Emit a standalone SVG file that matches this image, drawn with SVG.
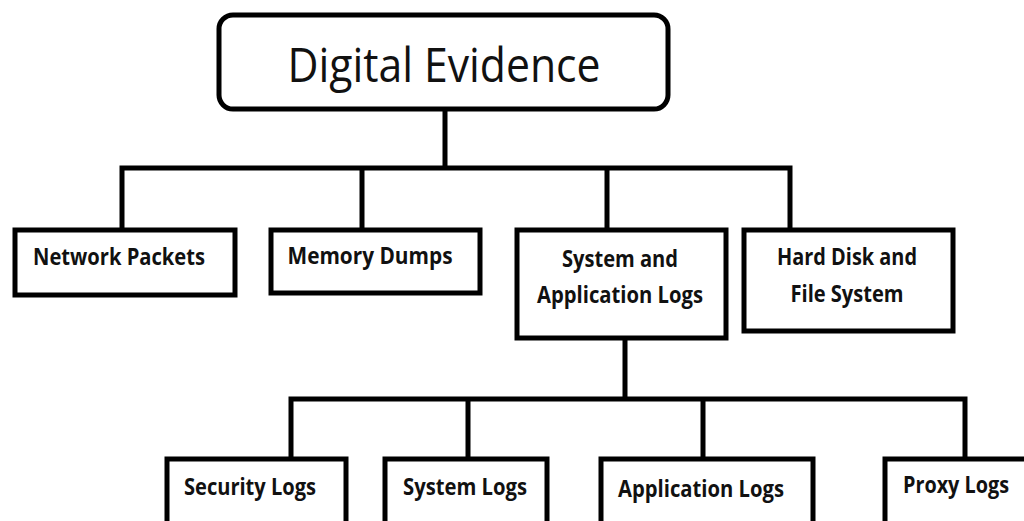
<svg xmlns="http://www.w3.org/2000/svg" width="1024" height="521" viewBox="0 0 1024 521">
<style>
.box{fill:#fff;stroke:#000;stroke-width:5}
.ln{fill:none;stroke:#000;stroke-width:5;stroke-linecap:square}
.t{font-family:"Open Sans","Noto Sans",sans-serif;font-weight:bold;font-size:24px;fill:#111;text-anchor:middle}
.title{font-family:"Open Sans","Noto Sans",sans-serif;font-size:48px;fill:#111;text-anchor:middle}
</style>
<rect width="1024" height="521" fill="#fff"/>
<g id="connectors">
<path class="ln" d="M445,109 V168 M122,168 H790 M122,168 V230 M362,168 V230 M607,168 V230 M790,168 V230"/>
<path class="ln" d="M625,338 V399 M291,399 H965 M291,399 V459 M468,399 V459 M703,399 V459 M965,399 V459"/>
</g>
<g id="digital-evidence">
<rect class="box" x="219" y="15" width="449" height="94" rx="14"/>
<text class="title" x="444" y="82" textLength="313" lengthAdjust="spacingAndGlyphs">Digital Evidence</text>
</g>
<g id="network-packets">
<rect class="box" x="15" y="230" width="220" height="65"/>
<text class="t" x="119" y="265" textLength="172" lengthAdjust="spacingAndGlyphs">Network Packets</text>
</g>
<g id="memory-dumps">
<rect class="box" x="271" y="230" width="209" height="63"/>
<text class="t" x="370" y="264" textLength="165" lengthAdjust="spacingAndGlyphs">Memory Dumps</text>
</g>
<g id="system-application-logs">
<rect class="box" x="517" y="230" width="209" height="108"/>
<text class="t" x="620" y="267" textLength="116" lengthAdjust="spacingAndGlyphs">System and</text>
<text class="t" x="620" y="303" textLength="166" lengthAdjust="spacingAndGlyphs">Application Logs</text>
</g>
<g id="hard-disk">
<rect class="box" x="744" y="230" width="209" height="101"/>
<text class="t" x="847" y="265" textLength="140" lengthAdjust="spacingAndGlyphs">Hard Disk and</text>
<text class="t" x="847" y="302" textLength="113" lengthAdjust="spacingAndGlyphs">File System</text>
</g>
<g id="security-logs">
<rect class="box" x="167" y="459" width="179" height="80"/>
<text class="t" x="250" y="495" textLength="132" lengthAdjust="spacingAndGlyphs">Security Logs</text>
</g>
<g id="system-logs">
<rect class="box" x="385" y="459" width="162" height="80"/>
<text class="t" x="465" y="495" textLength="124" lengthAdjust="spacingAndGlyphs">System Logs</text>
</g>
<g id="application-logs">
<rect class="box" x="601" y="459" width="212" height="80"/>
<text class="t" x="701" y="497" textLength="166" lengthAdjust="spacingAndGlyphs">Application Logs</text>
</g>
<g id="proxy-logs">
<rect class="box" x="885" y="459" width="160" height="80"/>
<text class="t" x="956" y="493" textLength="106" lengthAdjust="spacingAndGlyphs">Proxy Logs</text>
</g>
</svg>
